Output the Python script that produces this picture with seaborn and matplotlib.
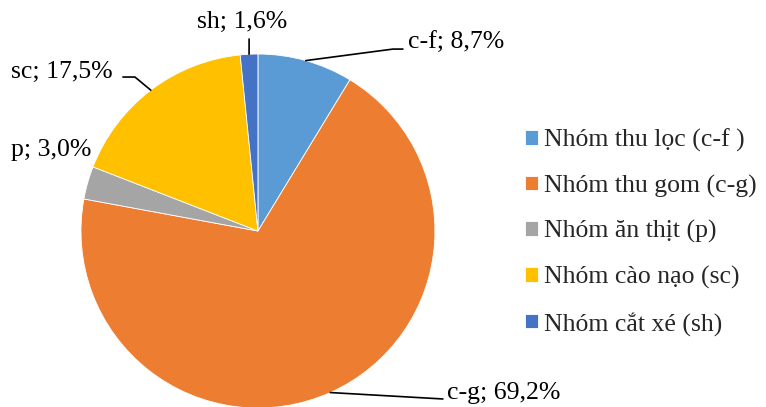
import numpy as np
import matplotlib
matplotlib.use("Agg")
import matplotlib.pyplot as plt
import seaborn as sns

# --- data ---
codes = ["c-f", "c-g", "p", "sc", "sh"]
shares = [8.7, 69.2, 3.0, 17.5, 1.6]
legend_labels = ["Nhóm thu lọc (c-f )", "Nhóm thu gom (c-g)", "Nhóm ăn thịt (p)",
                 "Nhóm cào nạo (sc)", "Nhóm cắt xé (sh)"]
colors = ["#5B9BD5", "#ED7D31", "#A5A5A5", "#FFC000", "#4472C4"]

sns.set_theme(style="white")
plt.rcParams["font.family"] = ["Liberation Serif", "DejaVu Serif"]

fig = plt.figure(figsize=(7.66, 4.07), dpi=100)
ax = fig.add_axes([0.1057, -0.0025, 0.4621, 0.8698])

wedges, _ = ax.pie(shares, colors=sns.color_palette(colors), startangle=90,
                   counterclock=False, radius=1,
                   wedgeprops=dict(edgecolor="white", linewidth=0.6))
ax.set_xlim(-1, 1)
ax.set_ylim(-1, 1)
ax.set_aspect("equal")
ax.axis("off")

# label placement: (text x, text y, ha, elbow points of leader line or None)
label_pos = {
    "c-f": (0.847, 1.062, "left", [(0.763, 1.028), (0.819, 1.028)]),
    "c-g": (1.068, -0.915, "left", [(1.045, -0.949)]),
    "p": (-0.944, 0.458, "right", None),
    "sc": (-0.819, 0.898, "right", [(-0.695, 0.870), (-0.763, 0.870)]),
    "sh": (-0.09, 1.181, "center", [(-0.05, 1.085)]),
}

for w, code, val in zip(wedges, codes, shares):
    mid = np.deg2rad((w.theta1 + w.theta2) / 2)
    x0, y0 = np.cos(mid), np.sin(mid)
    tx, ty, ha, pts = label_pos[code]
    if pts:
        xs = [x0] + [p[0] for p in pts]
        ys = [y0] + [p[1] for p in pts]
        ax.plot(xs, ys, color="black", lw=1.2, clip_on=False)
    ax.text(tx, ty, f"{code}; {val:.1f}%".replace(".", ","), ha=ha, va="center",
            fontsize=18.5, color="black", clip_on=False)

fig.legend(wedges, legend_labels, loc="center left", bbox_to_anchor=(0.685, 0.43),
           frameon=False, fontsize=18.5, handlelength=0.5, handleheight=0.5,
           handletextpad=0.25, labelspacing=0.88, borderpad=0, borderaxespad=0)

plt.savefig("out.png", dpi=100)
